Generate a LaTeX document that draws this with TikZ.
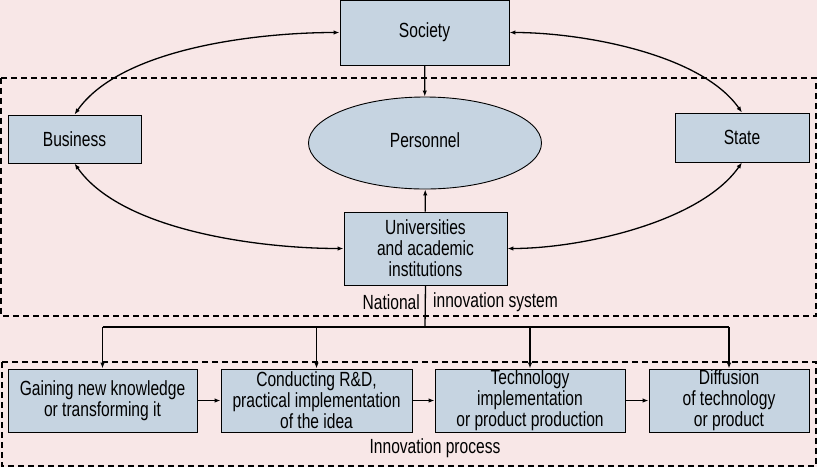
\documentclass[tikz,border=0pt]{standalone}
\usepackage{fontspec}
\setmainfont[FakeStretch=0.76]{Liberation Sans}
\usetikzlibrary{arrows.meta, positioning, shapes.geometric}
\definecolor{bgpink}{RGB}{248,231,231}
\definecolor{boxblue}{RGB}{198,212,225}

\begin{document}
\begin{tikzpicture}[x=1pt, y=-1pt,
    box/.style={draw, fill=boxblue, line width=0.9pt, inner sep=0pt, align=center,
      font=\fontsize{20.5}{21}\selectfont},
    link/.style={line width=1.3pt, -{Latex[length=6pt,width=4.5pt]}},
    both/.style={line width=1.3pt, {Latex[length=6pt,width=4.5pt]}-{Latex[length=6pt,width=4.5pt]}},
    frame/.style={line width=1.2pt, dash pattern=on 6pt off 4pt},
    lbl/.style={inner sep=0pt, font=\fontsize{20.5}{21}\selectfont}]

    % Sfondo
    \fill[bgpink] (0,0) rectangle (817,467);
    \useasboundingbox (0,0) rectangle (817,467);

    % Cornici tratteggiate
    \draw[frame] (1,78) rectangle (816,316);
    \draw[frame] (2,362) rectangle (816,466);

    % Blocchi superiori
    \node[box, minimum width=169pt, minimum height=65pt] (society) at (424.5,32.5) {Society};
    \node[box, minimum width=133pt, minimum height=48pt] (business) at (74.5,139) {Business};
    \node[box, ellipse, minimum width=233pt, minimum height=92pt] (personnel) at (425,143)
      {\raisebox{5pt}{Personnel}};
    \node[box, minimum width=134pt, minimum height=49pt] (state) at (742,137.5) {State};
    \node[box, minimum width=163pt, minimum height=73pt] (univ) at (425.5,248.5)
      {Universities\\and academic\\institutions};

    % Etichette cornici
    \node[lbl, anchor=east] (natl) at (420,302) {National};
    \node[lbl, anchor=west] (nis) at (433,302) {innovation system};
    \node[lbl] (iproc) at (435,448) {Innovation process};

    % Blocchi inferiori
    \node[box, minimum width=189pt, minimum height=63pt] (gain) at (102.5,400.5)
      {Gaining new knowledge\\or transforming it};
    \node[box, minimum width=191pt, minimum height=63pt] (rnd) at (316.5,400.5)
      {Conducting R\&D,\\practical implementation\\of the idea};
    \node[box, minimum width=190pt, minimum height=63pt] (tech) at (530,400.5)
      {Technology\\implementation\\or product production};
    \node[box, minimum width=160pt, minimum height=63pt] (diff) at (729,400.5)
      {Diffusion\\of technology\\or product};

    % Frecce
    \draw[link] (society) -- (personnel);
    \draw[link] (univ) -- (personnel);
    \draw[both] (business.north) to[out=55,in=180,looseness=0.75] (society.west);
    \draw[both] (state.north) to[out=125,in=0,looseness=0.75] (society.east);
    \draw[both] (business.south) to[out=-55,in=180,looseness=0.75] (univ.west);
    \draw[both] (state.south) to[out=-125,in=0,looseness=0.75] (univ.east);

    % Ramificazione
    \coordinate (bus) at (425,327);
    \draw[line width=1.3pt] (univ.south) -- (bus);
    \draw[line width=1.3pt] (gain.north |- bus) -- (diff.north |- bus);
    \foreach \n in {gain,rnd,tech,diff}
      \draw[link] (\n.north |- bus) -- (\n.north);

    % Processo
    \draw[link] (gain) -- (rnd);
    \draw[link] (rnd) -- (tech);
    \draw[link] (tech) -- (diff);

\end{tikzpicture}
\end{document}
